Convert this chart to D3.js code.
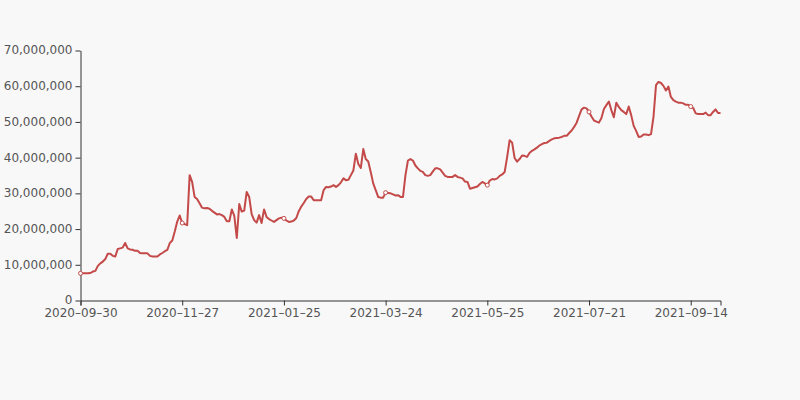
<!DOCTYPE html>
<html>
<head>
<meta charset="utf-8">
<script src="https://cdn.jsdelivr.net/npm/d3@7"></script>
<style>
  html, body { margin: 0; padding: 0; background: #f8f8f8; }
  svg { display: block; }
  text { font-family: "DejaVu Sans", sans-serif; }
</style>
</head>
<body>
<svg id="chart" width="800" height="400"></svg>
<script>
// Values in millions, one per trading day (index 0 .. 258)
const values = [
  7.6, 7.6, 7.6, 7.6, 7.7, 8.1, 8.3, 9.7, 10.4, 10.9,
  11.6, 13.1, 13.1, 12.5, 12.3, 14.4, 14.6, 14.8, 16.1, 14.6,
  14.3, 14.2, 13.9, 13.9, 13.3, 13.2, 13.2, 13.2, 12.5, 12.3,
  12.3, 12.3, 12.9, 13.3, 13.8, 14.2, 16.1, 16.8, 19.3, 22.1,
  23.8, 21.7, 21.4, 21.1, 35.1, 33.2, 29.0, 28.4, 27.2, 26.0,
  25.8, 25.9, 25.7, 25.1, 24.6, 24.1, 24.2, 23.9, 23.4, 22.2,
  22.2, 25.5, 23.7, 17.5, 27.0, 24.9, 25.2, 30.4, 29.0, 24.2,
  22.5, 21.8, 23.9, 21.7, 25.5, 23.4, 22.8, 22.4, 22.0, 22.5,
  23.0, 23.2, 23.0, 22.4, 22.0, 22.1, 22.4, 23.1, 25.0, 26.3,
  27.3, 28.4, 29.1, 29.1, 28.1, 28.1, 28.1, 28.1, 30.9, 31.8,
  31.7, 31.9, 32.3, 31.8, 32.3, 33.1, 34.2, 33.7, 33.8, 35.1,
  36.4, 41.1, 38.2, 37.1, 42.4, 39.6, 38.9, 36.0, 32.8, 30.9,
  29.0, 28.8, 28.8, 30.2, 30.1, 30.0, 29.7, 29.4, 29.5, 29.0,
  29.0, 35.1, 39.2, 39.6, 39.2, 37.8, 37.0, 36.3, 36.0, 35.1,
  34.9, 35.1, 36.1, 37.0, 37.0, 36.7, 35.8, 34.9, 34.6, 34.6,
  34.6, 35.1, 34.6, 34.4, 34.2, 33.3, 33.2, 31.3, 31.5, 31.7,
  31.9, 32.6, 33.2, 32.8, 32.3, 33.6, 34.0, 33.9, 34.2, 34.9,
  35.3, 36.0, 40.2, 44.9, 44.2, 39.9, 38.9, 39.6, 40.6, 40.5,
  40.2, 41.3, 41.9, 42.3, 42.8, 43.4, 43.8, 44.1, 44.2, 44.7,
  45.1, 45.4, 45.5, 45.6, 45.8, 46.1, 46.1, 46.9, 47.6, 48.6,
  49.8, 51.7, 53.5, 54.0, 53.8, 52.8, 51.5, 50.4, 50.1, 49.8,
  51.1, 53.6, 54.7, 55.7, 53.3, 51.3, 55.4, 54.2, 53.3, 52.8,
  52.2, 54.3, 51.9, 48.9, 47.5, 45.8, 45.9, 46.5, 46.5, 46.3,
  46.6, 51.5, 60.3, 61.2, 60.9, 60.1, 58.8, 59.9, 57.0, 56.1,
  55.7, 55.4, 55.4, 55.2, 54.8, 54.8, 54.3, 53.9, 52.4, 52.2,
  52.2, 52.2, 52.6, 51.9, 51.9, 52.8, 53.5, 52.5, 52.5
];
const UNIT = 1e6;
const tickLabels = ["2020–09–30", "2020–11–27", "2021–01–25", "2021–03–24", "2021–05–25", "2021–07–21", "2021–09–14"];
const tickIndex = [0, 41, 82, 123, 164, 205, 246];
const yTicks = [0, 10e6, 20e6, 30e6, 40e6, 50e6, 60e6, 70e6];

(function () {
  const svg = d3.select("#chart");
  const mLeft = 80.5, mRight = 720.5, mTop = 50.5, mBottom = 300.5;

  const x = d3.scaleLinear().domain([0, values.length - 1]).range([mLeft, mRight]);
  const y = d3.scaleLinear().domain([0, 70e6]).range([mBottom, mTop]);

  const axisColor = "#333";
  const textColor = "#555";

  // X axis
  const xAxis = svg.append("g")
    .attr("transform", `translate(0,${mBottom})`)
    .call(d3.axisBottom(x)
      .tickValues(tickIndex)
      .tickFormat((d, i) => tickLabels[i])
      .tickSize(5)
      .tickPadding(3)
      .tickSizeOuter(5));
  xAxis.select(".domain").attr("stroke", axisColor);
  xAxis.selectAll(".tick line").attr("stroke", axisColor);
  xAxis.selectAll(".tick text").attr("fill", textColor).attr("font-size", 12);

  // Y axis
  const fmt = d3.format(",");
  const yAxis = svg.append("g")
    .attr("transform", `translate(${mLeft},0)`)
    .call(d3.axisLeft(y)
      .tickValues(yTicks)
      .tickFormat(d => fmt(d))
      .tickSize(5)
      .tickPadding(3)
      .tickSizeOuter(0));
  yAxis.select(".domain").attr("stroke", axisColor);
  yAxis.selectAll(".tick line").attr("stroke", axisColor);
  yAxis.selectAll(".tick text").attr("fill", textColor).attr("font-size", 12).attr("dy", "0.28em");
  svg.selectAll(".tick text").attr("font-family", "DejaVu Sans, sans-serif");

  // Line
  const lineColor = "#c44a4a";
  const line = d3.line()
    .x((d, i) => x(i))
    .y(d => y(d * UNIT));

  svg.append("path")
    .datum(values)
    .attr("fill", "none")
    .attr("stroke", lineColor)
    .attr("stroke-width", 2)
    .attr("stroke-linejoin", "round")
    .attr("d", line);

  // Markers at labelled positions
  svg.append("g")
    .selectAll("circle")
    .data(tickIndex)
    .join("circle")
    .attr("cx", i => x(i))
    .attr("cy", i => y(values[i] * UNIT))
    .attr("r", 2)
    .attr("fill", "#fff")
    .attr("stroke", lineColor)
    .attr("stroke-width", 1);
})();
</script>
</body>
</html>
